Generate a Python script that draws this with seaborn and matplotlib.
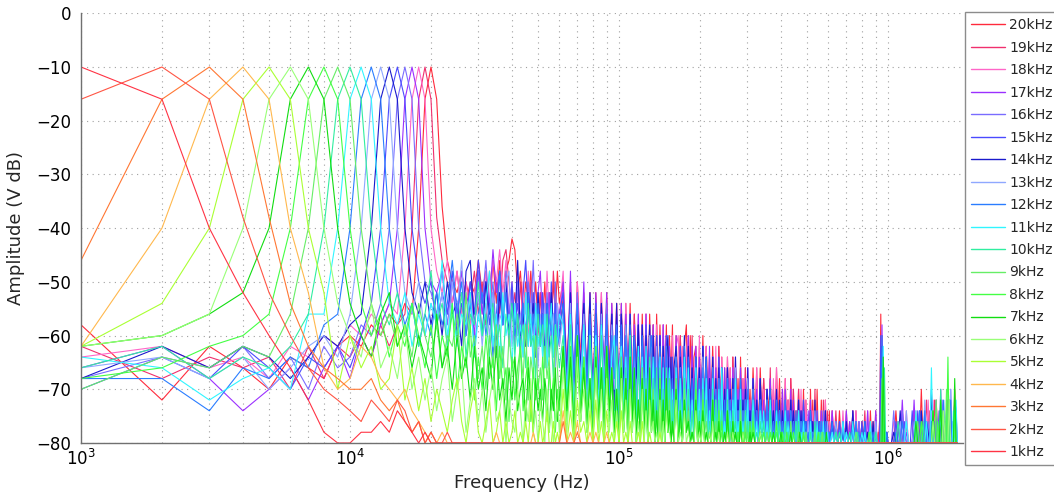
import sys
import numpy as np
import pandas as pd
import matplotlib
matplotlib.use("Agg")
import matplotlib.pyplot as plt
import seaborn as sns
from matplotlib.ticker import LogLocator, NullFormatter

# ---------------------------------------------------------------------------
# DATA
# FFT bins (kHz) at which the spectra were read off the picture
FREQ_KHZ = np.concatenate([
    np.arange(1, 61),          # 60 bins, 1 kHz apart
    np.arange(62, 161, 2),     # 50 bins
    np.arange(163, 311, 3),    # 50 bins
    np.arange(315, 611, 5),    # 60 bins
    np.arange(620, 1011, 10),  # 40 bins
    np.arange(1030, 1811, 20), # 40 bins
])

# amplitude code: one character per bin, '0' = -80 dB ... 'z' = -10 dB (2 dB steps)
LEVEL_CODES = "0123456789abcdefghijklmnopqrstuvwxyz"

LABELS = ["20kHz", "19kHz", "18kHz", "17kHz", "16kHz", "15kHz", "14kHz",
          "13kHz", "12kHz", "11kHz", "10kHz", "9kHz", "8kHz", "7kHz",
          "6kHz", "5kHz", "4kHz", "3kHz", "2kHz", "1kHz"]

COLORS = ["#ff2a3c", "#f0306e", "#ff66c8", "#9b30ff", "#7a6cff", "#4a4aff",
          "#1a1acc", "#8fa8ff", "#2a7dff", "#30f5ff", "#30eea0", "#66ee66",
          "#44ff44", "#11dd11", "#99ff77", "#aaff33", "#ffb84d", "#ff7733",
          "#ff5544", "#ff3344"]

S20K = ("b49758769a 9bacbdckwz wmhfegdfeh egchdhcghj iegcfdgcfb ebfaebfcgd "
        "f7e5f8d6e4 e6d4e7c5d3 d5c6d4c7b3 c5b4c6b3c5 b4a5b3a6b2 "
        "a4a39b2a48 9483a29374 9372938271 8371827362 8261726351 "
        "7261726153 6150726140 6140615031 5130514020 5041305120 4030412030 "
        "3020302010 2030201020 2010302010 10c0301000 "
        "0030100200 0010050013 0200410300 0140200510")
S19K = ("9687859698 a8b9bckwzw lhfdgcfdgc fbgdfchifc eafbe9fcda e9dbeagdc9 "
        "e6f4d7e5c3 d5e3c6d4b2 c6d4b5c3a4 b3c5a4b6a2 a4b3a59372 "
        "93a48293a2 8392739481 8271937260 7261827150 7150716240 "
        "6170526140 7051604150 5140615030 5031403120 4020513020 3040203010 "
        "2030102030 1020301020 3010201030 020a010000 "
        "0001030200 0300200140 3004000010 2040010300")
S18K = ("8978698a9b acbdckwzwk gehdgcfbeg cgdhfiehcf beafcgbead ae9gcead9c "
        "g6e4f7d5e3 d6e4d5c7d3 c5d3c6b4c2 b6c4b5a3b2 a5b2a493a1 "
        "9a3948a283 92a3829371 8291738260 8170726150 7160625140 "
        "6170615041 5160714030 6040513020 4150304010 4030213020 3020401020 "
        "3020103020 2010302010 1030201020 0009020100 "
        "0210000300 0030200004 0140003020 0030401000")
S17K = ("7963574796 a8bdkwzwkf egcfbgdeag cfdiegbfce afbd9ebcae gbd9eac8db "
        "f5g3e6f4d2 e4d6e3d5c2 d4c6c3b5c2 b4c3a5b2a4 a3b4a29371 "
        "a29384a193 9283927391 8271836270 7260718251 7150627140 "
        "6150614051 6040513050 5130514020 4030412030 4020311020 3010302010 "
        "3020102030 2030102010 1030201030 000b010000 "
        "0002040100 0400310020 0302000500 1000300400")
S16K = ("6879685978 badkwzwkfe cgbfdeafcg dhcfaebgce 9fbdafchbe ad8ebc9fac "
        "e5d7e4c6d3 d4c6d3b5c2 c5b3c4a6b2 b3a5b2a4a1 a493928371 "
        "9382938172 8372928160 8160727150 7150617041 6140516030 "
        "6040513040 5030412030 4030413020 4020312010 3010302010 2030102010 "
        "2010201020 1020102010 2010001020 0000800100 "
        "0300030000 0120000302 0000400041 0200500300")
S15K = ("5869758797 adkwzwkfdf becgadbfch dfbe9gceaf bd9ehcaebd 9ebc8fad9c "
        "e6d4c7d5c3 d5c3b6c4b2 c4b6b3a5b2 a4b3a592a3 9392a37281 "
        "8392718370 8271928260 7260816150 7150615041 6040516030 "
        "5140613050 5030412030 4130403020 3020412010 3010203010 2010302000 "
        "2010201010 1020101020 1010201010 00a0010000 "
        "0020002000 3003000200 1000303000 0004020100")
S14K = ("6979868a9b ckwzwkecfb eafcd9ghbe afcd8ebfad bhac9ebd8e ac8d9eb8ca "
        "d6e4c7d5e3 c4d6b5c3d2 c5b4c3a6b2 b3a5b2a493 a2938a2817 "
        "9283a29371 8271938260 8161727150 7150618040 6140517030 "
        "6040613050 5130514030 4020413020 4030312010 3020401020 2010302010 "
        "2020101020 1030201010 2010102010 0009000100 "
        "0100300000 0200030021 0500000200 2002000430")
S13K = ("7868579a8c kwzwkecfad be9fchadbe 9dae8cbfg9 dac8e9dac7 c9d8bac7d9 "
        "c5d3b6c4b2 b4c6a3b5a2 a3b5a29481 9382a37291 8271937260 "
        "8271836150 7160827140 7150616030 6040517030 5030416020 "
        "5030412040 4020313020 4010302010 3020201020 2010301000 2000102010 "
        "1020100010 0010201000 1000100020 0007000000 "
        "0000200300 0200000400 0300020000 0000500410")
S12K = ("6637687bck wzwkebd9ca ebdhcfad9c ead8cgbe9d ac8dae9c8d 9c7dab8c9a "
        "d4c6d3b5c2 c5b3c4a6b2 b3a5b4a293 a2938a3827 9281937160 "
        "8372918260 8160728150 7150617041 6140526030 6030415020 "
        "5130412040 5020413020 4010302030 3020312010 3010201020 2010200010 "
        "2010102010 1010201000 2000101010 000a000100 "
        "0010020000 0000300300 0200020004 0300400000")
S11K = ("874675cckw zwkdbe9cad bhad9cbe8c adg9c8eac7 d9b8e9c7d9 b8c7ad8b9c "
        "b4c3a5b2a4 a3b4938a27 9382a27193 8291738260 8170627150 "
        "7160817040 7150616030 6040517020 5030416020 5020314010 "
        "4020313020 4010302010 3020201020 3010201000 2000102010 1020001000 "
        "1010002010 0020100010 1000200010 0000900000 "
        "0000000200 0030000020 0700000300 0020003040")
S10K = ("796879ckwz wkdbead9cg bd9cae8cbf ac8d9b7cad 8c9b7d9a6c 9b7c8a6b97 "
        "a3b29482a3 92a3827193 8271a26183 7160826170 7150716040 "
        "6140615030 6030514020 5040413010 4020312010 4010302000 "
        "3010202010 3000102010 2010100020 2000101000 1000200010 1010000000 "
        "0010100000 1000010000 0000100010 0000070000 "
        "0002000000 0010002000 0000000500 0300000100")
S9K = ("58798ckwzw kdac9b8da8 b7a9c6e8a6 95a7b694a7 8596b486a5 7496835a74 "
       "9372a28361 8261927150 8150716041 7140615030 6030514020 "
       "6020513010 5010412000 4020301010 3010200010 3000201000 "
       "2000100010 1010000100 0000200000 1000001000 0000100000 0100000000 "
       "0000000000 0000100000 0000000000 0000700000 "
       "0000000000 0002000000 0000400030 0500000200")
S8K = ("679ackwzwk dac8b9da7b 6a8d597b48 5a68395728 4793682746 3852746153 "
       "8291738260 9170826150 7160815040 6150614030 6040513020 "
       "5030412010 5020401010 4010302000 3000201010 2010100020 "
       "2000101000 1000200010 0100001000 0000100000 0000000100 0000000000 "
       "0000000000 0000000000 0001000000 0006000000 "
       "0000000000 0000020000 0030020000 0080000300")
S7K = ("9acekwzwkd a8ce9b7a86 c795a68495 7385946274 8356274163 5264153724 "
       "9381a27160 8271937150 7160827041 6150714030 5040613020 "
       "5030412010 4020301010 4010200010 3000201000 2010000010 "
       "1000100000 0010000100 0000100000 0100000000 0000000000 0000010000 "
       "0000000000 0000000000 0000000000 0000800000 "
       "0000000000 0020000000 0030000400 0000000600")
S6K = ("9ackwzwkda 8d796b5847 3682571462 5146235042 1530426130 4205130241 "
       "7160825140 7150614030 6140513020 5030412010 4020311000 "
       "4010301000 3010200010 2000100000 1000100000 0010000000 "
       "0000100000 0000000000 0000000000 0000000000 0000000000 0000000000 "
       "0000000000 0000000000 0000000000 0000000000 "
       "0000000000 0000000000 0020000003 0004000000")
S5K = ("9dkwzwke5a 7956b47362 5314620351 0240130201 3010204100 2013002010 "
       "5030412030 4020301020 3010200010 2000100000 1000000000 "
       "0000000000 0000000000 0000000000 0000000000 0000000000 "
       "0000000000 0000000000 0000000000 0000000000 0000000000 0000000000 "
       "0000000000 0000000000 0000000000 0000000000 "
       "0000000000 0000000000 0000000000 0000000000")
S4K = ("9kwzwke756 9865453210 0100000000 0000100000 0000000100 0000000000 "
       "3010200010 1000100000 0000000000 0000000000 0000000000 "
       "0000000000 0000000000 0000000000 0000000000 0000000000 "
       "0000000000 0000000000 0000000000 0000000000 0000000000 0000000000 "
       "0000000000 0000000000 0000000000 0000000000 "
       "0000000000 0000000000 0000000000 0000000000")
S3K = ("hwzwld9765 5643421201 0000000000 0000000000 0000000000 0000000000 "
       "2000100000 0000000000 0000000000 0000000000 0000000000 "
       "0000000000 0000000000 0000000000 0000000000 0000000000 "
       "0000000000 0000000000 0000000000 0000000000 0000000000 0000000000 "
       "0000000000 0000000000 0000000000 0000000000 "
       "0000000000 0000000000 0000000000 0000000000")
S2K = ("wzwlea7543 2432431201 0010000000 0000000000 0000000000 0000000000 "
       "0000000000 0000000000 0000000000 0000000000 0000000000 "
       "0000000000 0000000000 0000000000 0000000000 0000000000 "
       "0000000000 0000000000 0000000000 0000000000 0000000000 0000000000 "
       "0000000000 0000000000 0000000000 0000000000 "
       "0000000000 0000000000 0000000000 0000000000")
S1K = ("zwkea74100 1121321010 0000000000 0000000000 0000000000 0000000000 "
       "0000000000 0000000000 0000000000 0000000000 0000000000 "
       "0000000000 0000000000 0000000000 0000000000 0000000000 "
       "0000000000 0000000000 0000000000 0000000000 0000000000 0000000000 "
       "0000000000 0000000000 0000000000 0000000000 "
       "0000000000 0000000000 0000000000 0000000000")

SPECTRA = [S20K, S19K, S18K, S17K, S16K, S15K, S14K, S13K, S12K, S11K,
           S10K, S9K, S8K, S7K, S6K, S5K, S4K, S3K, S2K, S1K]


def decode(code):
    return [-80.0 + 2.0 * LEVEL_CODES.index(ch) for ch in code.replace(" ", "")]


frames = []
for label, code in zip(LABELS, SPECTRA):
    vals = decode(code)
    if len(vals) != len(FREQ_KHZ):
        print(label, "length", len(vals), file=sys.stderr)
    n = min(len(vals), len(FREQ_KHZ))
    frames.append(pd.DataFrame({"Frequency": FREQ_KHZ[:n] * 1000.0,
                                "Amplitude": vals[:n],
                                "Series": label}))
df = pd.concat(frames, ignore_index=True)

# ---------------------------------------------------------------------------
sns.set_theme(style="white")
plt.rcParams["font.family"] = ["DejaVu Sans"]
plt.rcParams["axes.unicode_minus"] = True

fig = plt.figure(figsize=(10.54, 5.03), dpi=100)
ax = fig.add_axes([81 / 1054, 1 - 443 / 503, (963 - 81) / 1054, (443 - 13.3) / 503])

sns.lineplot(data=df, x="Frequency", y="Amplitude", hue="Series",
             hue_order=LABELS, palette=dict(zip(LABELS, COLORS)),
             estimator=None, sort=False, linewidth=0.8, ax=ax)

ax.set_xscale("log")
ax.set_xlim(1e3, 1.9e6)
ax.set_ylim(-80, 0)
ax.set_yticks(np.arange(-80, 1, 10))
ax.xaxis.set_major_locator(LogLocator(base=10))
ax.xaxis.set_minor_locator(LogLocator(base=10, subs=np.arange(2, 10)))
ax.xaxis.set_minor_formatter(NullFormatter())

grid_kw = dict(color="#a0a0a0", linestyle=(0, (1, 4)), linewidth=0.8)
ax.grid(True, which="major", axis="both", **grid_kw)
ax.grid(True, which="minor", axis="x", **grid_kw)
ax.set_axisbelow(True)

for side in ("top", "right"):
    ax.spines[side].set_visible(False)
for side in ("left", "bottom"):
    ax.spines[side].set_color("#707070")
    ax.spines[side].set_linewidth(1.0)

ax.tick_params(which="both", direction="in", color="#707070")
ax.tick_params(which="major", length=5, labelsize=12, labelcolor="black")
ax.tick_params(which="minor", length=3)
ax.tick_params(axis="y", pad=7)
ax.tick_params(axis="x", pad=4)

ax.set_xlabel("Frequency (Hz)", fontsize=13, labelpad=4)
ax.set_ylabel("Amplitude (V dB)", fontsize=13, labelpad=8)

handles, labels = ax.get_legend_handles_labels()
if ax.get_legend() is not None:
    ax.get_legend().remove()
leg = fig.legend(handles, labels, loc="upper left",
                 bbox_to_anchor=(965 / 1054, 1 - 12 / 503),
                 bbox_transform=fig.transFigure,
                 frameon=True, fancybox=False, edgecolor="#707070",
                 fontsize=10, handlelength=2.4, handletextpad=0.35,
                 labelspacing=0.61, borderpad=0.45, borderaxespad=0)
leg.get_frame().set_linewidth(1.0)
leg.get_frame().set_facecolor("white")
for line in leg.get_lines():
    line.set_linewidth(1.0)

fig.savefig("out.png", dpi=100)
